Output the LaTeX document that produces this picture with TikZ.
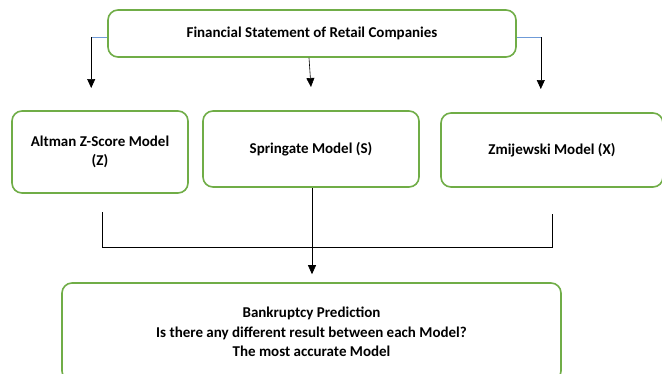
\documentclass[tikz,border=0pt]{standalone}
\usepackage{fontspec}
\setmainfont{Carlito}
\usetikzlibrary{arrows.meta}
\definecolor{boxgreen}{RGB}{112,173,71}
\definecolor{linkblue}{RGB}{111,155,216}

\tikzset{
  modelbox/.style={draw=boxgreen, line width=1.6pt, rounded corners=10pt, fill=white,
    align=center, font=\bfseries\fontsize{15}{19.5}\selectfont, inner sep=0pt},
  arr/.style={-{Triangle[width=8pt,length=9pt]}, line width=0.6pt},
  link/.style={draw=linkblue, line width=0.8pt},
}

\begin{document}
\begin{tikzpicture}[x=1pt, y=-1pt]
  \useasboundingbox (0,0) rectangle (662,373);

  % boxes
  \node [modelbox, minimum width=408pt, minimum height=47pt] (fin) at (312,33.5)
    {Financial Statement of Retail Companies};
  \node [modelbox, minimum width=176pt, minimum height=82pt] (alt) at (100,152)
    {Altman Z-Score Model\\(Z)};
  \node [modelbox, minimum width=216pt, minimum height=76pt] (spr) at (311,149)
    {Springate Model (S)};
  \node [modelbox, minimum width=222pt, minimum height=74pt] (zmi) at (552,150)
    {Zmijewski Model (X)};
  \node [modelbox, minimum width=499pt, minimum height=98pt] (pred) at (311.5,332)
    {Bankruptcy Prediction\\Is there any different result between each Model?\\The most accurate Model};

  % top branches
  \coordinate (fl) at ([yshift=-3.5pt]fin.west);
  \coordinate (fr) at ([yshift=-3.5pt]fin.east);
  \draw [link] (fl) -- ++(-16,0) coordinate (flc);
  \draw [link] (fr) -- ++(24,0) coordinate (frc);
  \draw [arr] (flc) -- (flc |- 0,88);
  \draw [arr] (frc) -- (frc |- 0,89);
  \draw [arr] ([xshift=-3pt]fin.south) -- (311,87);

  % bracket under the models
  \coordinate (bl) at (102,212);
  \coordinate (br) at (552,214);
  \draw [line width=0.6pt] (bl) -- (bl |- 0,247) -- (br |- 0,247) -- (br);

  % result
  \draw [arr, shorten >=8pt] ([xshift=1pt]spr.south) -- ([xshift=1pt]spr.south |- pred.north);
\end{tikzpicture}
\end{document}
